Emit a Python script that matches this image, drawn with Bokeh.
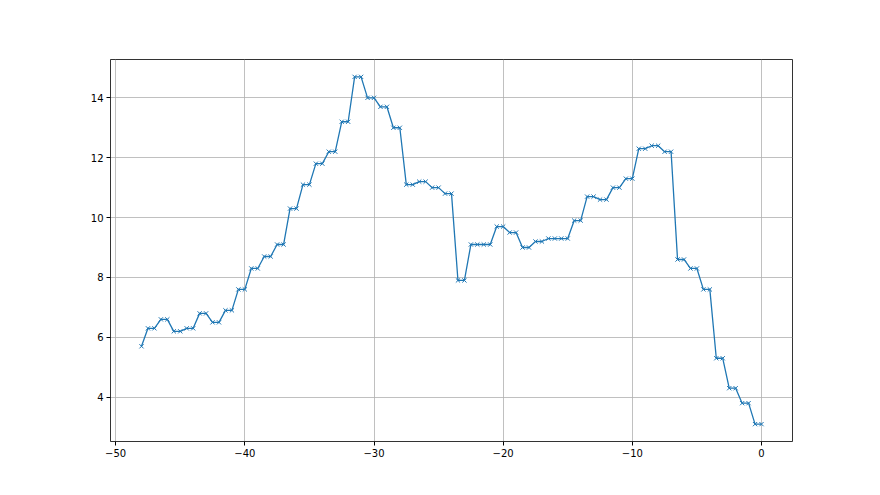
from bokeh.plotting import figure
from bokeh.embed import file_html
from bokeh.resources import INLINE
from bokeh.models import Range1d, FixedTicker

# x positions: -48 then pairs every 0.5 up to 0
first_x = [-48.0]
first_y = [5.7]
pair_values = [6.3, 6.6, 6.2, 6.3, 6.8, 6.5, 6.9, 7.6, 8.3, 8.7,
               9.1, 10.3, 11.1, 11.8, 12.2, 13.2, 14.7, 14.0, 13.7, 13.0,
               11.1, 11.2, 11.0, 10.8, 7.9, 9.1, 9.1, 9.7, 9.5, 9.0,
               9.2, 9.3, 9.3, 9.9, 10.7, 10.6, 11.0, 11.3, 12.3, 12.4,
               12.2, 8.6, 8.3, 7.6, 5.3, 4.3, 3.8, 3.1]
pair_ends = list(range(-47, 1))  # each pair sits at (k-0.5, k)

xs = list(first_x)
ys = list(first_y)
for k, v in zip(pair_ends, pair_values):
    xs += [k - 0.5, k]
    ys += [v, v]

x_ticks = [-50, -40, -30, -20, -10, 0]
y_ticks = [4, 6, 8, 10, 12, 14]

W, H = 864, 479
p = figure(width=W, height=H, output_backend="svg", toolbar_location=None,
           x_range=Range1d(-50.4, 2.4), y_range=Range1d(2.52, 15.28),
           min_border_left=110, min_border_right=72,
           min_border_top=59, min_border_bottom=38)
p.line(xs, ys, line_color="#1f77b4", line_width=1.3)
p.scatter(xs, ys, marker="x", size=6, line_color="#1f77b4", line_width=1)

for ax in (p.xaxis, p.yaxis):
    ax.major_label_text_font = "DejaVu Sans"
    ax.major_label_text_font_size = "10px"
    ax.major_label_text_color = "black"
    ax.axis_line_color = None
    ax.major_tick_line_color = "black"
    ax.major_tick_line_width = 1
    ax.major_tick_out = 4
    ax.major_tick_in = 0
    ax.minor_tick_line_color = None
    ax.major_label_standoff = 3
p.xaxis.ticker = FixedTicker(ticks=x_ticks)
p.yaxis.ticker = FixedTicker(ticks=y_ticks)
p.xaxis.major_label_overrides = {t: (("\u2212" + str(abs(t))) if t < 0 else str(t)) for t in x_ticks}

p.grid.grid_line_color = "#b0b0b0"
p.grid.grid_line_width = 0.8
p.outline_line_color = "black"
p.outline_line_width = 1
p.outline_line_alpha = 0.8
p.background_fill_color = "white"
p.border_fill_color = "white"

open("out.html", "w").write(file_html(p, INLINE))
